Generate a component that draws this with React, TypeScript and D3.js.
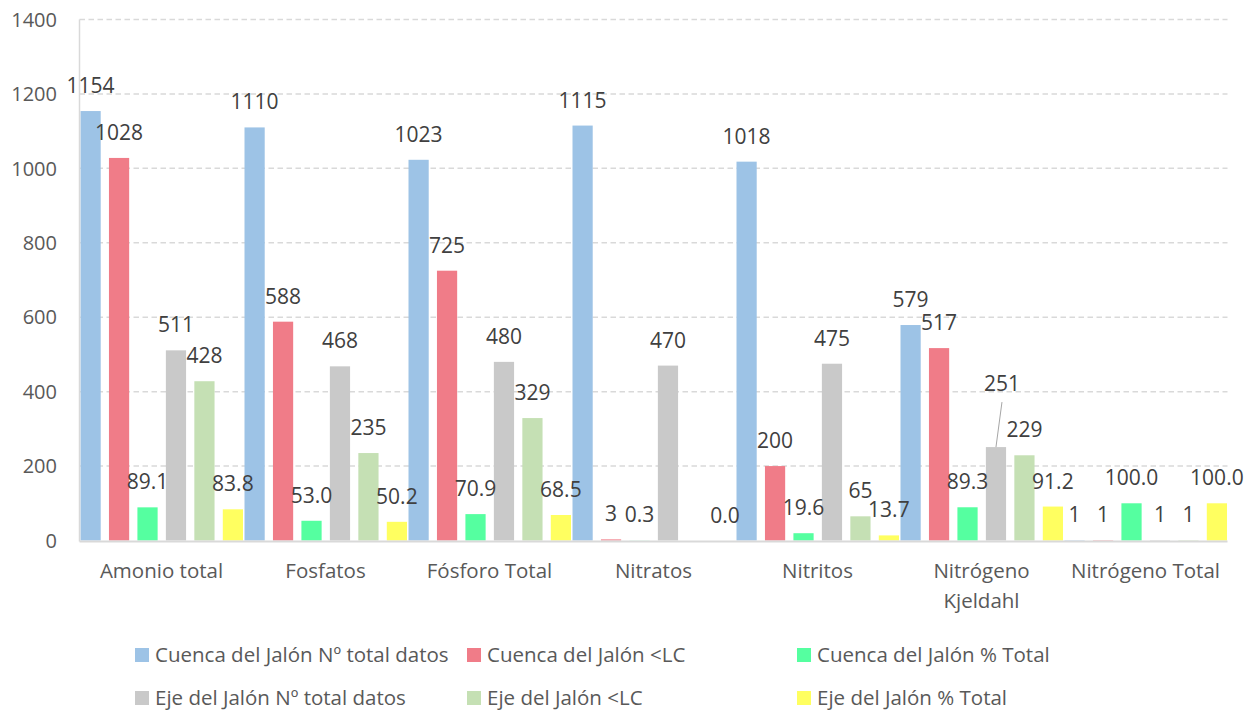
import React from "react";
import * as d3 from "d3";

const categories = ["Amonio total", "Fosfatos", "Fósforo Total", "Nitratos", "Nitritos", "Nitrógeno Kjeldahl", "Nitrógeno Total"];
const seriesNames = [
  "Cuenca del Jalón Nº total datos",
  "Cuenca del Jalón <LC",
  "Cuenca del Jalón % Total",
  "Eje del Jalón Nº total datos",
  "Eje del Jalón <LC",
  "Eje del Jalón % Total",
];
const cuencaTotal: (number | null)[] = [1154, 1110, 1023, 1115, 1018, 579, 1];
const cuencaLC: (number | null)[] = [1028, 588, 725, 3, 200, 517, 1];
const cuencaPct: (number | null)[] = [89.1, 53.0, 70.9, 0.3, 19.6, 89.3, 100.0];
const ejeTotal: (number | null)[] = [511, 468, 480, 470, 475, 251, 1];
const ejeLC: (number | null)[] = [428, 235, 329, null, 65, 229, 1];
const ejePct: (number | null)[] = [83.8, 50.2, 68.5, 0.0, 13.7, 91.2, 100.0];
const seriesValues = [cuencaTotal, cuencaLC, cuencaPct, ejeTotal, ejeLC, ejePct];
const seriesDecimals = [0, 0, 1, 0, 0, 1];
const colors = ["#9DC3E6", "#F07C88", "#55FFA0", "#C9C9C9", "#C5E0B4", "#FFFF60"];
const yTicks = [0, 200, 400, 600, 800, 1000, 1200, 1400];

const W = 1252;
const H = 711;
const left = 79.5;
const band = 164;
const right = left + band * categories.length;
const top = 19.5;
const bottom = 540.5;

export default function App() {
  const x = d3.scaleBand<string>().domain(categories).range([left, right]).paddingInner(0).paddingOuter(0);
  const xs = d3.scaleBand<number>().domain(d3.range(6)).range([1, band - 0.5]).paddingInner(0.29).paddingOuter(0);
  const y = d3.scaleLinear().domain([0, 1400]).range([bottom, top]);
  const font = "'Open Sans', sans-serif";
  const textCol = "#595959";
  const labelCol = "#404040";

  const legendCols = [135, 467, 797];
  const legendRows = [655, 698];

  return (
    <svg width={W} height={H} style={{ position: "absolute", left: 0, top: 0, background: "#fff" }} fontFamily={font}>
      {yTicks.filter((t) => t > 0).map((t) => (
        <line key={t} x1={left} x2={right} y1={y(t)} y2={y(t)} stroke="#D9D9D9" strokeWidth={1.5} strokeDasharray="5.5,3.5" />
      ))}
      {yTicks.map((t) => (
        <text key={t} x={57} y={y(t)} dy="0.36em" textAnchor="end" fontSize={20} fill={textCol}>{t}</text>
      ))}
      {seriesValues.map((vals, si) =>
        vals.map((v, ci) =>
          v == null ? null : (
            <rect key={`${si}-${ci}`} x={(x(categories[ci]) as number) + (xs(si) as number)} y={y(v)} width={xs.bandwidth()} height={bottom - y(v)} fill={colors[si]} />
          )
        )
      )}
      <line x1={left} x2={left} y1={top} y2={bottom + 1} stroke="#D9D9D9" strokeWidth={1.5} />
      <line x1={left} x2={right} y1={bottom + 1} y2={bottom + 1} stroke="#D9D9D9" strokeWidth={2} />
      {seriesValues.map((vals, si) =>
        vals.map((v, ci) => {
          if (v == null) return null;
          const cx = (x(categories[ci]) as number) + (xs(si) as number) + xs.bandwidth() / 2;
          const moved = si === 3 && ci === 5;
          const by = moved ? y(v) - 56 : y(v) - 18;
          return (
            <g key={`l${si}-${ci}`}>
              {moved && <line x1={cx + 6} y1={by + 11} x2={cx} y2={y(v)} stroke="#A6A6A6" strokeWidth={1} />}
              <text x={moved ? cx + 6 : cx} y={by} textAnchor="middle" fontSize={21} fill={labelCol}>
                {v.toFixed(seriesDecimals[si])}
              </text>
            </g>
          );
        })
      )}
      {categories.map((c) => {
        const cx = (x(c) as number) + band / 2;
        const parts = c === "Nitrógeno Kjeldahl" ? ["Nitrógeno", "Kjeldahl"] : [c];
        return (
          <text key={c} x={cx} y={578} textAnchor="middle" fontSize={20.5} fill={textCol}>
            {parts.map((p, i) => (
              <tspan key={p} x={cx} dy={i === 0 ? 0 : 29.5}>{p}</tspan>
            ))}
          </text>
        );
      })}
      {seriesNames.map((n, i) => {
        const lx = legendCols[i % 3];
        const ly = legendRows[Math.floor(i / 3)];
        return (
          <g key={n}>
            <rect x={lx} y={ly - 7} width={14} height={14} fill={colors[i]} />
            <text x={lx + 20} y={ly} dy="0.36em" fontSize={20.5} fill={textCol}>{n}</text>
          </g>
        );
      })}
    </svg>
  );
}
